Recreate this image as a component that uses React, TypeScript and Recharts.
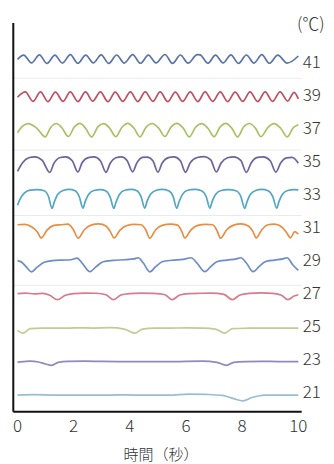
import React from "react";
import { LineChart, Line, XAxis, YAxis, ReferenceLine } from "recharts";

type P = [number, number];

const X_TICKS = [0, 2, 4, 6, 8, 10];
const Y_TICKS = [21, 23, 25, 27, 29, 31, 33, 35, 37, 39, 41];
const GRID_LINES = [40.0, 35.65, 31.68, 27.45];

const T41: P[] = [
  [0, 41.15], [0.22, 41.4], [0.5, 40.93], [0.78, 41.42], [1.05, 40.9], [1.33, 41.4], [1.6, 40.92],
  [1.88, 41.43], [2.15, 40.91], [2.43, 41.4], [2.7, 40.93], [2.98, 41.42], [3.25, 40.9], [3.53, 41.41],
  [3.8, 40.92], [4.1, 41.43], [4.38, 40.91], [4.66, 41.4], [4.93, 40.93], [5.25, 41.44], [5.52, 40.9],
  [5.8, 41.41], [6.07, 40.92], [6.4, 41.43], [6.5, 41.42], [6.78, 40.91], [7.05, 41.4], [7.32, 40.93],
  [7.6, 41.42], [7.87, 40.9], [8.15, 41.41], [8.42, 40.92], [8.7, 41.43], [8.97, 40.91], [9.27, 41.4],
  [9.6, 40.92], [10, 41.35],
];

const T39: P[] = [
  [0, 38.85], [0.28, 39.17], [0.55, 38.6], [0.82, 39.18], [1.08, 38.58], [1.35, 39.16], [1.62, 38.6],
  [1.88, 39.18], [2.15, 38.59], [2.42, 39.17], [2.68, 38.61], [2.95, 39.18], [3.22, 38.58], [3.48, 39.16],
  [3.75, 38.6], [4.02, 39.18], [4.28, 38.59], [4.55, 39.17], [4.82, 38.6], [5.08, 39.18], [5.35, 38.58],
  [5.62, 39.16], [5.88, 38.6], [6.15, 39.18], [6.42, 38.59], [6.68, 39.17], [6.95, 38.6], [7.22, 39.18],
  [7.48, 38.58], [7.75, 39.16], [8.02, 38.6], [8.28, 39.18], [8.55, 38.59], [8.82, 39.17], [9.08, 38.6],
  [9.35, 39.18], [9.62, 38.62], [9.85, 39.15], [10, 38.75],
];

const T37: P[] = [
  [0, 36.7], [0.15, 37.05], [0.38, 37.25], [0.7, 36.95], [0.98, 36.45], [1.18, 37.02], [1.38, 37.26],
  [1.58, 37.0], [1.81, 36.47], [2.02, 37.04], [2.22, 37.27], [2.42, 36.98], [2.64, 36.45], [2.86, 37.05],
  [3.07, 37.25], [3.28, 36.98], [3.5, 36.46], [3.72, 37.03], [3.93, 37.27], [4.15, 36.97], [4.36, 36.45],
  [4.58, 37.04], [4.8, 37.26], [5.02, 36.99], [5.25, 36.47], [5.47, 37.05], [5.68, 37.27], [5.9, 36.98],
  [6.12, 36.45], [6.34, 37.03], [6.56, 37.25], [6.78, 36.97], [7.0, 36.46], [7.21, 37.04], [7.42, 37.27],
  [7.63, 36.98], [7.84, 36.45], [8.05, 37.05], [8.26, 37.26], [8.47, 36.98], [8.67, 36.46], [8.92, 37.03],
  [9.14, 37.25], [9.37, 36.97], [9.6, 36.45], [9.82, 37.0], [10, 37.18],
];

const T35: P[] = [
  [0, 34.35], [0.18, 34.88], [0.4, 35.18], [0.62, 35.24], [0.88, 35.02], [1.15, 34.3], [1.3, 34.86],
  [1.52, 35.2], [1.72, 35.24], [1.95, 35.0], [2.15, 34.32], [2.3, 34.88], [2.52, 35.19], [2.72, 35.23],
  [2.95, 35.0], [3.15, 34.3], [3.3, 34.85], [3.5, 35.18], [3.7, 35.24], [3.9, 35.02], [4.1, 34.33],
  [4.25, 34.87], [4.45, 35.2], [4.62, 35.22], [4.82, 35.0], [5.0, 34.31], [5.15, 34.86], [5.37, 35.19],
  [5.58, 35.24], [5.8, 35.0], [5.98, 34.3], [6.15, 34.88], [6.4, 35.2], [6.65, 35.25], [6.88, 35.05],
  [7.08, 34.32], [7.25, 34.86], [7.48, 35.18], [7.7, 35.24], [7.95, 35.02], [8.15, 34.3], [8.32, 34.87],
  [8.55, 35.2], [8.75, 35.23], [9.0, 35.0], [9.2, 34.31], [9.37, 34.86], [9.58, 35.18], [9.78, 35.2],
  [10, 34.85],
];

const T33: P[] = [
  [0, 32.3], [0.1, 32.7], [0.25, 33.05], [0.45, 33.22], [0.7, 33.25], [0.95, 33.18], [1.1, 32.85],
  [1.23, 32.12], [1.31, 32.5], [1.43, 32.95], [1.62, 33.2], [1.85, 33.26], [2.05, 33.18], [2.2, 32.82],
  [2.33, 32.13], [2.41, 32.52], [2.53, 32.95], [2.72, 33.2], [2.95, 33.25], [3.15, 33.17], [3.3, 32.8],
  [3.43, 32.12], [3.51, 32.5], [3.63, 32.96], [3.82, 33.21], [4.05, 33.26], [4.25, 33.18], [4.4, 32.83],
  [4.53, 32.13], [4.61, 32.52], [4.73, 32.95], [4.92, 33.2], [5.15, 33.26], [5.38, 33.18], [5.54, 32.84],
  [5.67, 32.12], [5.75, 32.5], [5.87, 32.95], [6.06, 33.21], [6.3, 33.26], [6.55, 33.18], [6.72, 32.82],
  [6.85, 32.13], [6.93, 32.52], [7.05, 32.96], [7.25, 33.2], [7.5, 33.25], [7.78, 33.18], [7.95, 32.85],
  [8.09, 32.12], [8.17, 32.5], [8.29, 32.95], [8.48, 33.2], [8.7, 33.26], [8.92, 33.18], [9.09, 32.83],
  [9.23, 32.13], [9.31, 32.52], [9.43, 32.96], [9.62, 33.2], [9.85, 33.25], [10, 33.24],
];

const T31: P[] = [
  [0, 31.12], [0.25, 31.15], [0.5, 31.0], [0.7, 30.7], [0.85, 30.32], [1.05, 30.8], [1.3, 31.08],
  [1.55, 31.12], [1.8, 31.16], [1.98, 30.85], [2.16, 30.31], [2.38, 30.82], [2.62, 31.1], [2.9, 31.17],
  [3.15, 31.05], [3.3, 30.72], [3.44, 30.32], [3.65, 30.8], [3.9, 31.08], [4.15, 31.15], [4.4, 31.12],
  [4.57, 30.8], [4.71, 30.31], [4.92, 30.82], [5.18, 31.1], [5.45, 31.16], [5.7, 31.1], [5.84, 30.75],
  [5.96, 30.32], [6.17, 30.8], [6.42, 31.08], [6.7, 31.15], [6.95, 31.12], [7.1, 30.78], [7.23, 30.31],
  [7.45, 30.82], [7.7, 31.1], [7.95, 31.17], [8.22, 31.05], [8.38, 30.72], [8.5, 30.32], [8.7, 30.82],
  [8.92, 31.12], [9.15, 31.16], [9.4, 31.0], [9.58, 30.65], [9.72, 30.33], [9.87, 30.7], [10, 30.55],
];

const T29: P[] = [
  [0, 28.95], [0.15, 28.85], [0.32, 28.55], [0.5, 28.27], [0.7, 28.55], [0.95, 28.85], [1.25, 28.95],
  [1.6, 28.98], [1.9, 29.0], [2.12, 29.1], [2.3, 28.8], [2.58, 28.28], [2.8, 28.58], [3.05, 28.88],
  [3.4, 28.96], [3.8, 29.0], [4.15, 29.05], [4.3, 29.12], [4.48, 28.8], [4.71, 28.27], [4.92, 28.58],
  [5.15, 28.88], [5.5, 28.97], [5.9, 29.02], [6.18, 29.12], [6.4, 28.78], [6.67, 28.28], [6.88, 28.58],
  [7.1, 28.88], [7.45, 28.98], [7.8, 29.05], [7.95, 29.12], [8.15, 28.8], [8.39, 28.28], [8.6, 28.58],
  [8.82, 28.88], [9.15, 28.98], [9.45, 29.05], [9.6, 29.12], [9.8, 28.7], [10, 28.35],
];

const T27: P[] = [
  [0, 26.95], [0.3, 26.98], [0.6, 26.93], [0.9, 26.96], [1.15, 26.85], [1.42, 26.58], [1.7, 26.85],
  [2.0, 26.95], [2.4, 26.98], [2.8, 26.97], [3.15, 26.88], [3.41, 26.58], [3.68, 26.86], [4.0, 26.95],
  [4.4, 26.98], [4.8, 26.96], [5.25, 26.88], [5.5, 26.58], [5.78, 26.86], [6.1, 26.95], [6.5, 26.97],
  [6.9, 26.98], [7.35, 26.9], [7.65, 26.58], [7.92, 26.86], [8.25, 26.96], [8.7, 26.99], [9.1, 26.96],
  [9.4, 26.85], [9.63, 26.58], [9.85, 26.8], [10, 26.88],
];

const T25: P[] = [
  [0, 24.72], [0.2, 24.55], [0.45, 24.82], [0.9, 24.86], [1.5, 24.85], [2.1, 24.87], [2.7, 24.86],
  [3.3, 24.88], [3.8, 24.8], [4.18, 24.55], [4.45, 24.8], [4.9, 24.85], [5.5, 24.86], [6.0, 24.87],
  [6.6, 24.86], [7.05, 24.8], [7.38, 24.55], [7.65, 24.82], [8.2, 24.85], [8.8, 24.86], [9.4, 24.85],
  [10, 24.86],
];

const T23: P[] = [
  [0, 22.8], [0.2, 22.82], [0.45, 22.86], [0.75, 22.8], [1.0, 22.68], [1.22, 22.6], [1.45, 22.78],
  [1.8, 22.84], [2.4, 22.85], [3.0, 22.84], [3.6, 22.83], [4.2, 22.82], [4.8, 22.83], [5.4, 22.82],
  [6.0, 22.84], [6.6, 22.85], [7.1, 22.78], [7.44, 22.6], [7.7, 22.78], [8.1, 22.83], [8.7, 22.84],
  [9.3, 22.83], [10, 22.83],
];

const T21: P[] = [
  [0, 20.8], [0.6, 20.82], [1.2, 20.8], [1.8, 20.79], [2.4, 20.8], [3.0, 20.79], [3.6, 20.81],
  [4.2, 20.8], [4.8, 20.8], [5.4, 20.79], [6.1, 20.86], [6.7, 20.84], [7.3, 20.78], [7.7, 20.58],
  [8.03, 20.45], [8.35, 20.65], [8.8, 20.8], [9.4, 20.8], [10, 20.8],
];

const SERIES: { name: string; color: string; points: P[] }[] = [
  { name: "41", color: "#5a74ab", points: T41 },
  { name: "39", color: "#bf5062", points: T39 },
  { name: "37", color: "#abc064", points: T37 },
  { name: "35", color: "#72629c", points: T35 },
  { name: "33", color: "#52a6c6", points: T33 },
  { name: "31", color: "#e88d42", points: T31 },
  { name: "29", color: "#6e8cc8", points: T29 },
  { name: "27", color: "#d77c8c", points: T27 },
  { name: "25", color: "#bfcc94", points: T25 },
  { name: "23", color: "#8e8abb", points: T23 },
  { name: "21", color: "#96bed4", points: T21 },
];

const FONT = '"Noto Sans CJK JP", "Noto Sans", sans-serif';
const Y_DOMAIN: [number, number] = [19.79, 43.35];

export default function App() {
  return (
    <div style={{ position: "absolute", left: 0, top: 0, width: 334, height: 464, background: "#fff", fontFamily: FONT, overflow: "hidden" }}>
      <LineChart width={334} height={464} margin={{ top: 23, right: 0.3, bottom: 22.3, left: 12.3 }}>
        <XAxis
          type="number"
          dataKey="t"
          domain={[-0.15, 10.12]}
          ticks={X_TICKS}
          allowDataOverflow
          height={30}
          tickLine={false}
          tickSize={0}
          tickMargin={8}
          axisLine={{ stroke: "#111", strokeWidth: 2 }}
          tick={{ fill: "#333", fontSize: 17, fontWeight: 300, fontFamily: FONT }}
        />
        <YAxis
          yAxisId="l"
          orientation="left"
          type="number"
          domain={Y_DOMAIN}
          allowDataOverflow
          width={1}
          tick={false}
          tickLine={false}
          axisLine={{ stroke: "#111", strokeWidth: 2 }}
        />
        <YAxis
          yAxisId="r"
          orientation="right"
          type="number"
          domain={Y_DOMAIN}
          allowDataOverflow
          ticks={Y_TICKS}
          width={32}
          axisLine={false}
          tickLine={false}
          tickSize={0}
          tickMargin={1}
          tick={{ fill: "#333", fontSize: 17, fontWeight: 300, fontFamily: FONT }}
        />
        {GRID_LINES.map((g) => (
          <ReferenceLine key={"g" + g} yAxisId="r" y={g} stroke="#ebebeb" strokeWidth={1} />
        ))}
        {SERIES.map((s) => (
          <Line
            key={s.name}
            name={s.name}
            yAxisId="r"
            data={s.points.map(([t, v]) => ({ t, v }))}
            dataKey="v"
            type="monotone"
            dot={false}
            activeDot={false}
            stroke={s.color}
            strokeWidth={1.7}
            isAnimationActive={false}
          />
        ))}
      </LineChart>
      <div style={{ position: "absolute", left: 297, top: 12, fontSize: 17, fontWeight: 300, lineHeight: "22px", color: "#333", whiteSpace: "nowrap" }}>
        (℃)
      </div>
      <div style={{ position: "absolute", left: 0, width: 322, top: 444, textAlign: "center", fontSize: 15, fontWeight: 300, lineHeight: "20px", color: "#333", whiteSpace: "nowrap" }}>
        時間（秒）
      </div>
    </div>
  );
}
